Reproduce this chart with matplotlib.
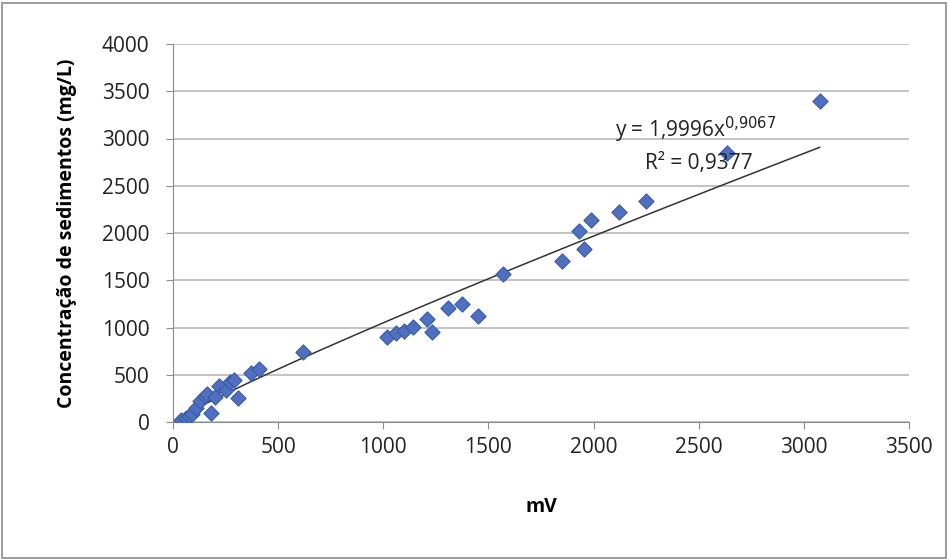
import numpy as np
import matplotlib
matplotlib.use("Agg")
import matplotlib.pyplot as plt
from matplotlib.patches import Rectangle

# leitura em mV e concentração de sedimentos (mg/L)
mv = [40, 60, 75, 90, 110, 130, 150, 160, 180, 200, 220, 250, 270, 290, 310,
      370, 410, 620, 1020, 1060, 1100, 1140, 1210, 1230, 1310, 1375, 1450,
      1570, 1850, 1930, 1955, 1990, 2120, 2250, 2635, 3075]
conc = [20, 40, 60, 80, 150, 220, 280, 300, 100, 260, 380, 340, 420, 440, 250,
        520, 560, 740, 900, 940, 960, 1010, 1090, 950, 1210, 1250, 1120,
        1570, 1700, 2020, 1830, 2140, 2220, 2340, 2850, 3400]

coef_a = 1.9996
coef_b = 0.9067
r2_text = "R² = 0,9377"
eq_text = "y = 1,9996x$^{0{,}9067}$"

plt.rcParams['font.family'] = ['Open Sans', 'DejaVu Sans']

fig = plt.figure(figsize=(9.49, 5.6), dpi=100)
ax = fig.add_axes([173/949, 138/560, 736/949, 378/560])

ax.scatter(mv, conc, marker='D', s=60, color='#4F6FC0', edgecolors='#3B5BA8',
           linewidths=0.8, zorder=3)

xt = np.linspace(40, 3075, 200)
ax.plot(xt, coef_a * xt ** coef_b, color='#333333', lw=1.1, zorder=2)

ax.set_xlim(0, 3500)
ax.set_ylim(0, 4000)
ax.set_xticks(range(0, 3501, 500))
ax.set_yticks(range(0, 4001, 500))
ax.yaxis.grid(True, color='#BEBEBE', lw=1.3)
ax.set_axisbelow(True)
for s in ['top', 'right']:
    ax.spines[s].set_visible(False)
for s in ['left', 'bottom']:
    ax.spines[s].set_color('#8C8C8C')
ax.tick_params(colors='#8C8C8C', labelcolor='#222222', labelsize=15,
               length=5, direction='out')
ax.tick_params(axis='y', pad=12)
ax.tick_params(axis='x', pad=6)

ax.set_xlabel('mV', fontsize=14, fontweight='bold', labelpad=28)
ax.set_ylabel('Concentração de sedimentos (mg/L)', fontsize=14,
              fontweight='bold', labelpad=18)

ax.text(2100, 3090, eq_text, fontsize=15, color='#222222', ha='left', va='center')
ax.text(2245, 2740, r2_text, fontsize=15, color='#222222', ha='left', va='center')

fig.patches.append(Rectangle((2/949, 2/560), 944/949, 555/560, transform=fig.transFigure,
                             fill=False, edgecolor='#8C8C8C', lw=1.2))

fig.savefig('out.png', dpi=100)
